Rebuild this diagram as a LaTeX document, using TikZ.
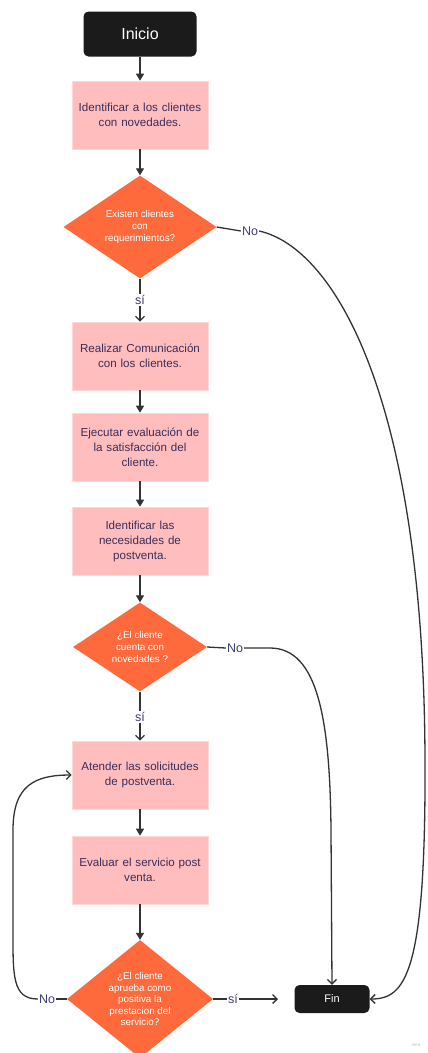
\documentclass[tikz,border=0pt]{standalone}
\usepackage{fontspec}
\setmainfont{Liberation Sans}
\usetikzlibrary{shapes.geometric,arrows.meta}
\definecolor{boxpink}{HTML}{FFBDBD}
\definecolor{decorange}{HTML}{FF6A3D}
\definecolor{termblack}{HTML}{1B1B1B}
\definecolor{boxtext}{HTML}{3A2E5A}
\definecolor{lbltext}{HTML}{3E3E72}
\definecolor{linegray}{HTML}{333333}
\tikzset{
  terminal/.style={rectangle, rounded corners=5pt, fill=termblack, text=white, inner sep=0pt},
  process/.style={rectangle, fill=boxpink, draw=boxpink!60!white, line width=0.6pt,
    minimum width=136pt, minimum height=68pt, text width=134pt, align=center,
    text=boxtext, font=\fontsize{11.6}{15}\selectfont, inner sep=0pt},
  decision/.style={diamond, fill=decorange, text=white, inner sep=0pt, align=center,
    font=\fontsize{9.8}{11.8}\selectfont},
  lbl/.style={text=lbltext, font=\fontsize{12.5}{14}\selectfont, inner sep=1pt},
  conn/.style={draw=linegray, line width=1.3pt},
  flow/.style={conn, -{Triangle[width=8pt,length=7pt]}},
  open/.style={conn, -{Straight Barb[width=9pt,length=4.5pt]}},
}
\begin{document}
\begin{tikzpicture}[x=1pt,y=-1pt]
\useasboundingbox (0,0) rectangle (428,1053);
\fill[white] (0,0) rectangle (428,1053);

% start / end
\node[terminal, minimum width=113pt, minimum height=45pt, font=\fontsize{16}{18}\selectfont] (ini) at (140,34) {Inicio};
\node[terminal, minimum width=75pt, minimum height=28pt, font=\fontsize{11}{13}\selectfont] (fin) at (332,999) {Fin};

% steps
\node[process] (p1) at (140,115) {Identificar a los clientes\\con novedades.};
\node[decision, minimum width=153pt, minimum height=100pt] (d1) at (140,227) {Existen clientes\\con\\requerimientos?};
\node[process] (p2) at (140,356) {Realizar Comunicación\\con los clientes.};
\node[process] (p3) at (140,447) {Ejecutar evaluación de\\la satisfacción del\\cliente.};
\node[process] (p4) at (140,541) {Identificar las\\necesidades de\\postventa.};
\node[decision, minimum width=134pt, minimum height=89pt] (d2) at (140,647) {¿El cliente\\cuenta con\\novedades ?};
\node[process] (p5) at (140,775) {Atender las solicitudes\\de postventa.};
\node[process] (p6) at (140,870) {Evaluar el servicio post\\venta.};
\node[decision, minimum width=146pt, minimum height=118pt, font=\fontsize{9.8}{11.5}\selectfont] (d3) at (140,999) {¿El cliente\\aprueba como\\positiva la\\prestacion del\\servicio?};

% branch labels
\node[lbl] (s1) at (140,300) {sí};
\node[lbl] (n1) at (250,231) {No};
\node[lbl] (s2) at (140,717) {sí};
\node[lbl] (n2) at (235,648) {No};
\node[lbl] (s3) at (233,999) {sí};
\node[lbl] (n3) at (47,999) {No};
\coordinate (finin) at (278,999);

% main flow
\draw[flow] (ini) -- (p1);
\draw[flow] (p1) -- (d1);
\draw[flow] (p2) -- (p3);
\draw[flow] (p3) -- (p4);
\draw[flow] (p4) -- (d2);
\draw[flow] (p5) -- (p6);
\draw[flow] (p6) -- (d3);

% decision 1
\draw[conn] (d1.south) -- (s1.north);
\draw[open] (s1.south) -- (p2.north);
\draw[conn] (d1.east) -- (n1.west);
\draw[open] (n1.east) .. controls (335,248) and (424,400) .. (425,760)
  .. controls (426,975) and (405,999) .. (fin.east);

% decision 2
\draw[conn] (d2.south) -- (s2.north);
\draw[open] (s2.south) -- (p5.north);
\draw[conn] (d2.east) -- (n2.west);
\draw[open] (n2.east) -- (270,648) .. controls (318,648) and (330,720) .. (331,830) -- (fin.north);

% decision 3
\draw[conn] (d3.east) -- (s3.west);
\draw[open] (s3.east) -- (finin);
\draw[conn] (d3.west) -- (n3.east);
\draw[open] (n3.west) .. controls (12,999) and (13,975) .. (13,930) -- (13,830)
  .. controls (13,785) and (35,775) .. (p5.west);

\node[text=black!25, font=\fontsize{4.5}{5}\selectfont] (wm) at (416,1045) {miro};
\end{tikzpicture}
\end{document}
